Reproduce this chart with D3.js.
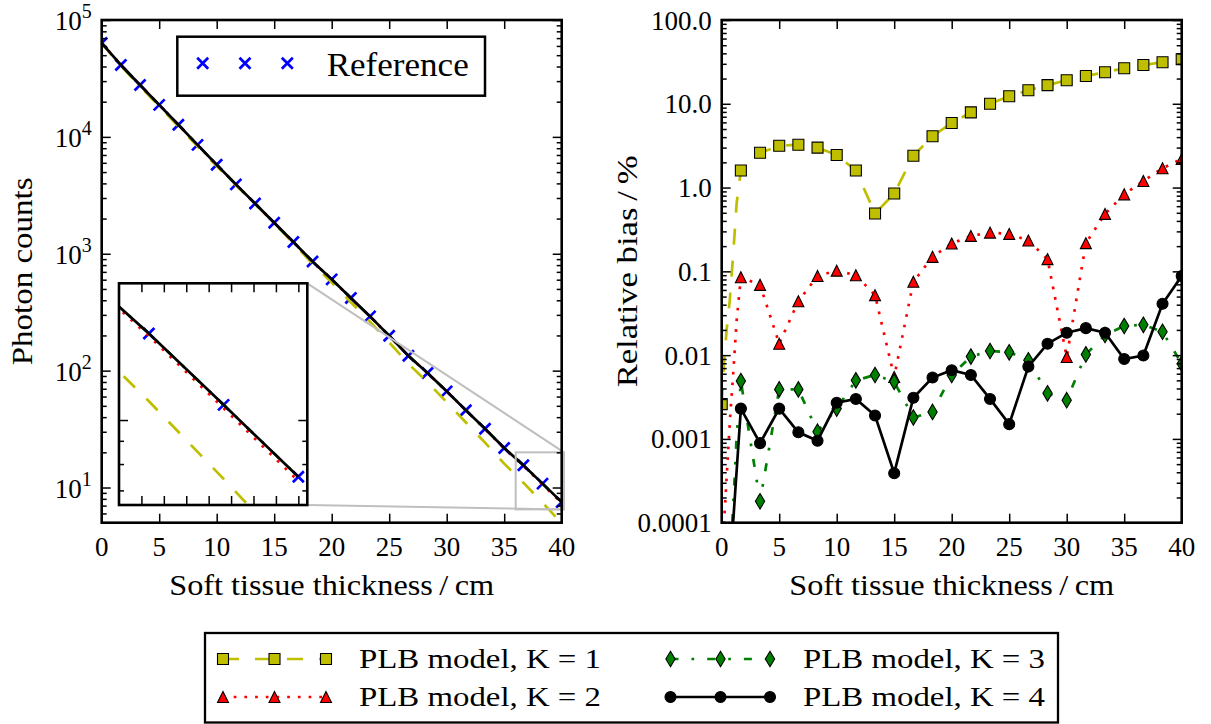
<!DOCTYPE html>
<html><head><meta charset="utf-8">
<script src="https://cdn.jsdelivr.net/npm/d3@7"></script>
<style>
body{margin:0;background:#fff}
svg{display:block}
</style>
</head><body>
<svg id="c" width="1211" height="724"></svg>
<script>
// ---------------- DATA ----------------
const thickness = [0, 1.667, 3.333, 5, 6.667, 8.333, 10, 11.667, 13.333, 15, 16.667, 18.333, 20,
  21.667, 23.333, 25, 26.667, 28.333, 30, 31.667, 33.333, 35, 36.667, 38.333, 40];

// Left panel: photon counts
const refCounts = [63500, 41200, 27800, 18800, 12700, 8550, 5770, 3920, 2690, 1840, 1260, 858, 604,
  418, 291, 199, 134, 95.5, 66.5, 45.8, 31.8, 21.8, 15.5, 10.8, 7.5];
const k1Counts = [63500, 40540, 27080, 18210, 12290, 8290, 5630, 3860, 2680, 1825, 1230, 823, 568,
  385, 262, 174.5, 114.6, 79.6, 53.8, 36.0, 24.2, 16.0, 11.0, 7.42, 4.95];
const k2Counts = [63500, 41170, 27780, 18800, 12690, 8540, 5760, 3915, 2690, 1840, 1259, 857, 603,
  417, 290, 198.5, 133.7, 95.4, 66.5, 45.7, 31.65, 21.62, 15.31, 10.62, 7.34];
const k3Counts = [63500, 41200, 27800, 18800, 12700, 8550, 5770, 3920, 2690, 1840, 1260, 858, 604,
  418, 291, 199, 134, 95.5, 66.5, 45.8, 31.8, 21.8, 15.5, 10.8, 7.5];
const k4Counts = [63500, 41200, 27800, 18800, 12700, 8550, 5770, 3920, 2690, 1840, 1260, 858, 604,
  418, 291, 199, 134, 95.5, 66.5, 45.8, 31.8, 21.8, 15.5, 10.8, 7.5];

// Right panel: relative bias in %
const biasK1 = [0.0026, 1.6, 2.6, 3.15, 3.25, 3.0, 2.45, 1.6, 0.49, 0.85, 2.4, 4.1, 5.9,
  7.9, 10.0, 12.3, 14.5, 16.7, 19.1, 21.5, 23.8, 26.5, 29.0, 31.3, 34.0];
const biasK2 = [0.00004, 0.085, 0.069, 0.0137, 0.044, 0.088, 0.102, 0.09, 0.052, 0.0055, 0.075, 0.149, 0.215,
  0.265, 0.29, 0.28, 0.233, 0.14, 0.0095, 0.217, 0.485, 0.83, 1.2, 1.7, 2.2];
const biasK3 = [0.000005, 0.0049, 0.00018, 0.0039, 0.0039, 0.00122, 0.0023, 0.005, 0.0058, 0.0048, 0.0018, 0.0021, 0.0058,
  0.0096, 0.0112, 0.0108, 0.0087, 0.0035, 0.0029, 0.0102, 0.0174, 0.0223, 0.023, 0.019, 0.0079];
const biasK4 = [0.000001, 0.0023, 0.00089, 0.0023, 0.0012, 0.00095, 0.0027, 0.003, 0.0019, 0.00039, 0.0031, 0.0054, 0.0066,
  0.0058, 0.003, 0.0015, 0.0073, 0.0137, 0.0185, 0.021, 0.0185, 0.009, 0.0099, 0.041, 0.088];
// finer line samples in the first interval (thickness, bias)
const k1Head = [[0, 0.0026], [0.2, 0.008], [0.43, 0.02], [0.7, 0.045], [1.0, 0.16], [1.3, 0.65]];
const k2Head = [[0, 0.00004], [0.2, 0.0001], [0.43, 0.00035], [0.72, 0.0017], [1.0, 0.006], [1.3, 0.026]];
const k3Head = [[0, 0.000005], [0.92, 0.0001], [1.15, 0.0004], [1.3, 0.0011], [1.53, 0.0028]];
const k4Head = [];

const xTicks = [0, 5, 10, 15, 20, 25, 30, 35, 40];
const countTicks = [10, 100, 1000, 10000, 100000];
const countExponents = ["1", "2", "3", "4", "5"];
const biasTicks = [0.0001, 0.001, 0.01, 0.1, 1, 10, 100];
const biasLabels = ["0.0001", "0.001", "0.01", "0.1", "1.0", "10.0", "100.0"];
const insetXTicks = [36.5, 37, 37.5, 38, 38.5, 39, 39.5, 40];
const insetYMajor = [10];
const insetYMinor = [7, 8, 9];
const seriesNames = ["PLB model, K = 1", "PLB model, K = 2", "PLB model, K = 3", "PLB model, K = 4"];
const refName = "Reference";
const xTitle = "Soft tissue thickness\u2009/\u2009cm";

// ---------------- FONT PICK ----------------
function fontAvailable(name) {
  const c = document.createElement("canvas").getContext("2d");
  const s = "Soft tissue 0123456789 Reference";
  const res = [];
  for (const base of ["monospace", "sans-serif"]) {
    c.font = `40px ${base}`; const w0 = c.measureText(s).width;
    c.font = `40px "${name}", ${base}`; const w1 = c.measureText(s).width;
    res.push(Math.abs(w0 - w1) > 0.5);
  }
  return res[0] && res[1];
}
const fontCandidates = ["Liberation Serif", "DejaVu Serif", "Noto Serif", "Times New Roman", "Tinos"];
const FONT = fontCandidates.find(fontAvailable) || "serif";
const FS = FONT === "DejaVu Serif" ? 25.5 : 29;   // titles / legend
const TS = FONT === "DejaVu Serif" ? 24 : 27;     // tick labels

// ---------------- LAYOUT ----------------
const svg = d3.select("#c");
const L = {x0: 101.7, x1: 561.7, y0: 20, y1: 522.7};
const R = {x0: 721.7, x1: 1181.7, y0: 20, y1: 522.7};
const I = {x0: 119, x1: 307.3, y0: 283.3, y1: 505};

const xL = d3.scaleLinear().domain([0, 40]).range([L.x0, L.x1]);
const yL = d3.scaleLog().domain([5, 1e5]).range([L.y1, L.y0]);
const xR = d3.scaleLinear().domain([0, 40]).range([R.x0, R.x1]);
const yR = d3.scaleLog().domain([1e-4, 100]).range([R.y1, R.y0]);
const xI = d3.scaleLinear().domain([36, 40.2]).range([I.x0, I.x1]);
const yI = d3.scaleLog().domain([6.5, 20]).range([I.y1, I.y0]);

const LW = 2.7, MS = 11;
const styles = [
  {color: "#bfbf00", dash: "16,16", marker: "square"},
  {color: "#ff0000", dash: "2.7,8", marker: "triangle"},
  {color: "#008000", dash: "8,13,2.7,13", marker: "diamond"},
  {color: "#000000", dash: null, marker: "circle"}
];
const countsSeries = [k1Counts, k2Counts, k3Counts, k4Counts];
const biasSeries = [biasK1, biasK2, biasK3, biasK4];
const heads = [k1Head, k2Head, k3Head, k4Head];

function txt(g) {
  return g.append("text").style("font-family", `"${FONT}", serif`).attr("fill", "#000");
}

const defs = svg.append("defs");
function clip(id, b) {
  defs.append("clipPath").attr("id", id).append("rect")
    .attr("x", b.x0).attr("y", b.y0).attr("width", b.x1 - b.x0).attr("height", b.y1 - b.y0);
}
clip("clipL", L); clip("clipR", R); clip("clipI", I);

function markerPath(type) {
  const s = MS;
  if (type === "square") return `M${-s/2},${-s/2}h${s}v${s}h${-s}Z`;
  if (type === "triangle") return `M0,${-s/2}L${s/2},${s/2}L${-s/2},${s/2}Z`;
  if (type === "diamond") { const h = s * 1.41, w = h * 0.6; return `M0,${-h/2}L${w/2},0L0,${h/2}L${-w/2},0Z`; }
  if (type === "circle") return d3.symbol(d3.symbolCircle, Math.PI * (s/2) * (s/2))();
  if (type === "cross") { const c = s / 2; return `M${-c},${-c}L${c},${c}M${-c},${c}L${c},${-c}`; }
}
function drawMarker(g, type, color, x, y) {
  const p = g.append("path").attr("d", markerPath(type)).attr("transform", `translate(${x},${y})`);
  if (type === "cross") p.attr("fill", "none").attr("stroke", color).attr("stroke-width", 2.7);
  else p.attr("fill", color).attr("stroke", "#000").attr("stroke-width", 1.1);
  return p;
}

function logMinor(domain) {
  const [a, b] = domain, out = [];
  for (let e = Math.floor(Math.log10(a)); e <= Math.ceil(Math.log10(b)); e++)
    for (let m = 2; m <= 9; m++) { const v = m * Math.pow(10, e); if (v >= a * 0.999 && v <= b * 1.001) out.push(v); }
  return out;
}

function drawTicks(g, x, y, b, xt, yMaj, yMin) {
  const add = (axis, tx, ty) => {
    const a = g.append("g").attr("transform", `translate(${tx},${ty})`).call(axis);
    a.select(".domain").remove();
    a.selectAll("text").remove();
    a.selectAll("line").attr("stroke", "#000").attr("stroke-width", 1.5);
  };
  add(d3.axisBottom(x).tickValues(xt).tickSize(-9), 0, b.y1);
  add(d3.axisTop(x).tickValues(xt).tickSize(-9), 0, b.y0);
  add(d3.axisLeft(y).tickValues(yMaj).tickSize(-9), b.x0, 0);
  add(d3.axisRight(y).tickValues(yMaj).tickSize(-9), b.x1, 0);
  add(d3.axisLeft(y).tickValues(yMin).tickSize(-5), b.x0, 0);
  add(d3.axisRight(y).tickValues(yMin).tickSize(-5), b.x1, 0);
}
function frame(g, b) {
  g.append("rect").attr("x", b.x0).attr("y", b.y0).attr("width", b.x1 - b.x0).attr("height", b.y1 - b.y0)
    .attr("fill", "none").attr("stroke", "#000").attr("stroke-width", 2.6);
}

function drawCounts(g, x, y, clipId) {
  const cg = g.append("g").attr("clip-path", `url(#${clipId})`);
  thickness.forEach((t, i) => drawMarker(cg, "cross", "#0000ff", x(t), y(refCounts[i])));
  const line = d3.line().x(d => x(d[0])).y(d => y(d[1]));
  countsSeries.forEach((arr, k) => {
    const pts = thickness.map((t, i) => [t, arr[i]]);
    const p = cg.append("path").attr("d", line(pts)).attr("fill", "none")
      .attr("stroke", styles[k].color).attr("stroke-width", LW);
    if (styles[k].dash) p.attr("stroke-dasharray", styles[k].dash);
  });
}

// ---------------- LEFT PANEL ----------------
const gL = svg.append("g");
drawCounts(gL, xL, yL, "clipL");

const gray = "#bfbfbf";
const rx0 = xL(xI.domain()[0]), rx1 = xL(xI.domain()[1]);
const ry0 = yL(yI.domain()[1]), ry1 = yL(yI.domain()[0]);
gL.append("rect").attr("x", rx0).attr("y", ry0).attr("width", rx1 - rx0).attr("height", ry1 - ry0)
  .attr("fill", "none").attr("stroke", gray).attr("stroke-width", 2);
gL.append("line").attr("x1", I.x1).attr("y1", I.y0).attr("x2", rx1).attr("y2", ry0).attr("stroke", gray).attr("stroke-width", 2);
gL.append("line").attr("x1", I.x1).attr("y1", I.y1).attr("x2", rx1).attr("y2", ry1).attr("stroke", gray).attr("stroke-width", 2);

drawTicks(gL, xL, yL, L, xTicks, countTicks, logMinor(yL.domain()));
frame(gL, L);

xTicks.forEach(d => txt(gL).attr("x", xL(d)).attr("y", L.y1 + 33).attr("text-anchor", "middle")
  .attr("font-size", TS).text(d));
countTicks.forEach((v, i) => {
  const t = txt(gL).attr("x", L.x0 - 10).attr("y", yL(v) + 10).attr("text-anchor", "end").attr("font-size", TS);
  t.append("tspan").text("10");
  t.append("tspan").attr("dy", -12).attr("font-size", TS * 0.74).text(countExponents[i]);
});
txt(gL).attr("x", (L.x0 + L.x1) / 2).attr("y", 595).attr("text-anchor", "middle")
  .attr("font-size", FS).attr("textLength", 325).attr("lengthAdjust", "spacingAndGlyphs").text(xTitle);
txt(gL).attr("transform", `translate(32,${(L.y0 + L.y1) / 2}) rotate(-90)`).attr("text-anchor", "middle")
  .attr("font-size", FS).attr("textLength", 188).attr("lengthAdjust", "spacingAndGlyphs").text("Photon counts");

const lg1 = gL.append("g");
lg1.append("rect").attr("x", 177.3).attr("y", 36.7).attr("width", 307.7).attr("height", 59)
  .attr("fill", "#fff").attr("stroke", "#000").attr("stroke-width", 2.5);
[202.7, 245, 287.3].forEach(mx => drawMarker(lg1, "cross", "#0000ff", mx, 63.3));
txt(lg1).attr("x", 326.7).attr("y", 75.5).attr("font-size", FS * 1.17)
  .attr("textLength", 142).attr("lengthAdjust", "spacingAndGlyphs").text(refName);

// inset
const gI = svg.append("g");
gI.append("rect").attr("x", I.x0).attr("y", I.y0).attr("width", I.x1 - I.x0).attr("height", I.y1 - I.y0).attr("fill", "#fff");
drawCounts(gI, xI, yI, "clipI");
drawTicks(gI, xI, yI, I, insetXTicks, insetYMajor, insetYMinor);
frame(gI, I);

// ---------------- RIGHT PANEL ----------------
const gR = svg.append("g");
const cR = gR.append("g").attr("clip-path", "url(#clipR)");
const lineR = d3.line().x(d => xR(d[0])).y(d => yR(d[1]));
biasSeries.forEach((arr, k) => {
  const head = heads[k];
  const lastX = head.length ? head[head.length - 1][0] : -1;
  const pts = head.concat(thickness.map((t, i) => [t, arr[i]]).filter(d => d[0] > lastX));
  const p = cR.append("path").attr("d", lineR(pts)).attr("fill", "none")
    .attr("stroke", styles[k].color).attr("stroke-width", LW);
  if (styles[k].dash) p.attr("stroke-dasharray", styles[k].dash);
  thickness.forEach((t, i) => drawMarker(cR, styles[k].marker, styles[k].color, xR(t), yR(arr[i])));
});
drawTicks(gR, xR, yR, R, xTicks, biasTicks, logMinor(yR.domain()));
frame(gR, R);
xTicks.forEach(d => txt(gR).attr("x", xR(d)).attr("y", R.y1 + 33).attr("text-anchor", "middle")
  .attr("font-size", TS).text(d));
biasTicks.forEach((d, i) => txt(gR).attr("x", R.x0 - 10).attr("y", yR(d) + 9.5).attr("text-anchor", "end")
  .attr("font-size", TS).text(biasLabels[i]));
txt(gR).attr("x", (R.x0 + R.x1) / 2).attr("y", 595).attr("text-anchor", "middle")
  .attr("font-size", FS).attr("textLength", 325).attr("lengthAdjust", "spacingAndGlyphs").text(xTitle);
txt(gR).attr("transform", `translate(637,${(R.y0 + R.y1) / 2}) rotate(-90)`).attr("text-anchor", "middle")
  .attr("font-size", FS).attr("textLength", 232).attr("lengthAdjust", "spacingAndGlyphs").text("Relative bias\u2009/\u2009%");

// ---------------- BOTTOM LEGEND ----------------
const lg2 = svg.append("g");
lg2.append("rect").attr("x", 205).attr("y", 633).attr("width", 853).attr("height", 89.5)
  .attr("fill", "#fff").attr("stroke", "#000").attr("stroke-width", 2.3);
const legPos = [
  {mx: [223, 274.5, 326], tx: 359, y: 659},
  {mx: [223, 274.5, 326], tx: 359, y: 697},
  {mx: [670.5, 720.5, 770], tx: 803, y: 659},
  {mx: [670.5, 720.5, 770], tx: 803, y: 697}
];
seriesNames.forEach((name, k) => {
  const p = legPos[k];
  const ln = lg2.append("line").attr("x1", p.mx[0]).attr("x2", p.mx[2]).attr("y1", p.y).attr("y2", p.y)
    .attr("stroke", styles[k].color).attr("stroke-width", LW);
  if (styles[k].dash) ln.attr("stroke-dasharray", styles[k].dash);
  p.mx.forEach(mx => drawMarker(lg2, styles[k].marker, styles[k].color, mx, p.y));
  txt(lg2).attr("x", p.tx).attr("y", p.y + 9).attr("font-size", FS * 0.97)
    .attr("textLength", 242).attr("lengthAdjust", "spacingAndGlyphs").text(name);
});
</script>
</body></html>
